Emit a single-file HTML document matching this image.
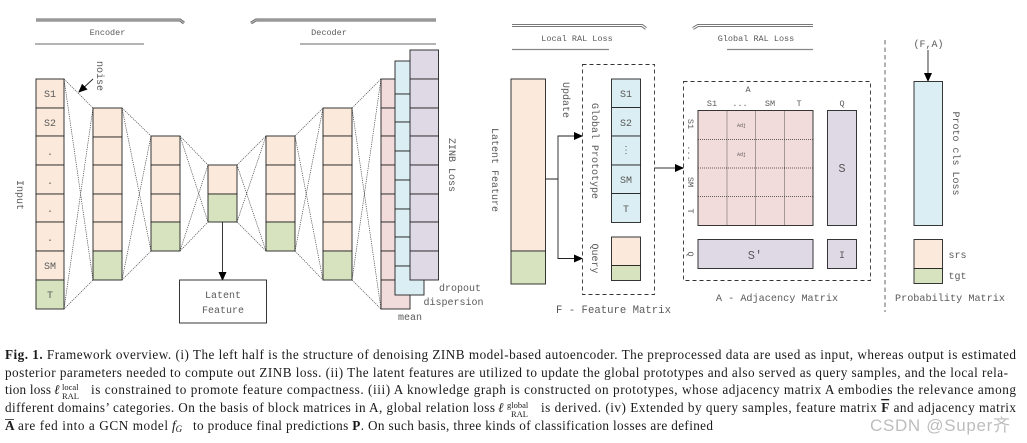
<!DOCTYPE html>
<html><head><meta charset="utf-8">
<style>
html,body{margin:0;padding:0;background:#fff;width:1027px;height:443px;overflow:hidden}
svg{display:block;filter:blur(.3px)}
.m{font-family:"Liberation Mono",monospace;font-size:10px;fill:#5a5a5a;text-anchor:middle}
.s{font-size:8.5px}
.t{font-size:5px}
.p{fill:#fbeadb}.g{fill:#d7e3bf}.k{fill:#f2dbdb}.b{fill:#dbeef3}.u{fill:#dfd9e6}
rect{stroke:#222;stroke-width:.9}
.x{fill:none;stroke:#444;stroke-width:.7;stroke-dasharray:1.2 1}
.d{fill:none;stroke:#333;stroke-width:.9;stroke-dasharray:4 3}
.l{stroke:#222;stroke-width:.9;fill:none}
.r{stroke:#888;stroke-width:1.2;fill:none}
.c{font-family:"Liberation Serif",serif;font-size:13.2px;fill:#1a1a1a}
</style></head><body>
<svg width="1027" height="443" viewBox="0 0 1027 443" xmlns="http://www.w3.org/2000/svg">
<defs><marker id="a" markerWidth="9" markerHeight="8" refX="8" refY="4" orient="auto" markerUnits="userSpaceOnUse"><path d="M0 0L9 4L0 8Z" fill="#000"/></marker></defs>

<!-- top bars -->
<path d="M36 20H180L184 23" fill="none" stroke="#666" stroke-width="3"/>
<path d="M436 20H256L251 23" fill="none" stroke="#666" stroke-width="3"/>
<path d="M36 20H180L184 23M436 20H256L251 23" fill="none" stroke="#aaa" stroke-width="1.6"/>
<path class="r" d="M35 44H144M300 44H436M512 49.5H609M727 49.5H813"/>
<path d="M512 25.500H642L646 28.500" fill="none" stroke="#666" stroke-width="3"/>
<path d="M813 25.500H698L693 28.500" fill="none" stroke="#666" stroke-width="3"/>
<path d="M512 25.500H642L646 28.500M813 25.500H698L693 28.500" fill="none" stroke="#fff" stroke-width="1.200"/>
<text class="m s" x="107.500" y="35">Encoder</text>
<text class="m s" x="329" y="35">Decoder</text>
<text class="m s" x="577" y="41">Local RAL Loss</text>
<text class="m s" x="756" y="41">Global RAL Loss</text>

<!-- connectors between columns -->
<path class="x" d="M64 79L93 108M64 79L93 280M64 309L93 280M64 309L93 108"/>
<path class="x" d="M122 108L151 136M122 108L151 251M122 280L151 251M122 280L151 136"/>
<path class="x" d="M180 136L208 165M180 136L208 222M180 251L208 222M180 251L208 165"/>
<path class="x" d="M237 165L266 136M237 165L266 251M237 222L266 251M237 222L266 136"/>
<path class="x" d="M295 136L323 108M295 136L323 280M295 251L323 280M295 251L323 108"/>
<path class="x" d="M352 108L381 79M352 108L381 309M352 280L381 309M352 280L381 79"/>

<!-- column 1 -->
<rect class="p" x="36" y="79" width="28" height="29"/><rect class="p" x="36" y="108" width="28" height="28"/><rect class="p" x="36" y="136" width="28" height="29"/><rect class="p" x="36" y="165" width="28" height="29"/><rect class="p" x="36" y="194" width="28" height="28"/><rect class="p" x="36" y="222" width="28" height="29"/><rect class="p" x="36" y="251" width="28" height="29"/><rect class="g" x="36" y="280" width="28" height="29"/>
<text class="m" x="50" y="97">S1</text><text class="m" x="50" y="126">S2</text><text class="m" x="50" y="155">.</text><text class="m" x="50" y="184">.</text><text class="m" x="50" y="212">.</text><text class="m" x="50" y="241">.</text><text class="m" x="50" y="269">SM</text><text class="m" x="50" y="298">T</text>

<!-- column 2 -->
<rect class="p" x="93" y="108" width="29" height="29"/><rect class="p" x="93" y="137" width="29" height="28"/><rect class="p" x="93" y="165" width="29" height="29"/><rect class="p" x="93" y="194" width="29" height="28"/><rect class="p" x="93" y="222" width="29" height="29"/><rect class="g" x="93" y="251" width="29" height="29"/>
<!-- column 3 -->
<rect class="p" x="151" y="136" width="29" height="29"/><rect class="p" x="151" y="165" width="29" height="29"/><rect class="p" x="151" y="194" width="29" height="28"/><rect class="g" x="151" y="222" width="29" height="29"/>
<!-- column 4 -->
<rect class="p" x="208" y="165" width="29" height="29"/><rect class="g" x="208" y="194" width="29" height="28"/>
<!-- column 5 -->
<rect class="p" x="266" y="136" width="29" height="29"/><rect class="p" x="266" y="165" width="29" height="29"/><rect class="p" x="266" y="194" width="29" height="28"/><rect class="g" x="266" y="222" width="29" height="29"/>
<!-- column 6 -->
<rect class="p" x="323" y="108" width="29" height="28"/><rect class="p" x="323" y="136" width="29" height="29"/><rect class="p" x="323" y="165" width="29" height="29"/><rect class="p" x="323" y="194" width="29" height="28"/><rect class="p" x="323" y="222" width="29" height="29"/><rect class="g" x="323" y="251" width="29" height="29"/>

<!-- pink -->
<rect class="k" x="381" y="79" width="29" height="29"/><rect class="k" x="381" y="108" width="29" height="28"/><rect class="k" x="381" y="136" width="29" height="29"/><rect class="k" x="381" y="165" width="29" height="29"/><rect class="k" x="381" y="194" width="29" height="28"/><rect class="k" x="381" y="222" width="29" height="29"/><rect class="k" x="381" y="251" width="29" height="29"/><rect class="k" x="381" y="280" width="29" height="29"/>
<!-- blue -->
<rect class="b" x="395" y="61" width="29" height="33"/><rect class="b" x="395" y="94" width="29" height="28"/><rect class="b" x="395" y="122" width="29" height="29"/><rect class="b" x="395" y="151" width="29" height="29"/><rect class="b" x="395" y="180" width="29" height="29"/><rect class="b" x="395" y="209" width="29" height="28"/><rect class="b" x="395" y="237" width="29" height="29"/><rect class="b" x="395" y="266" width="29" height="29"/>
<!-- purple -->
<rect class="u" x="410" y="50" width="28.500" height="29"/><rect class="u" x="410" y="79" width="28.500" height="29"/><rect class="u" x="410" y="108" width="28.500" height="28"/><rect class="u" x="410" y="136" width="28.500" height="29"/><rect class="u" x="410" y="165" width="28.500" height="29"/><rect class="u" x="410" y="194" width="28.500" height="28"/><rect class="u" x="410" y="222" width="28.500" height="29"/><rect class="u" x="410" y="251" width="28.500" height="29"/>

<!-- noise arrow -->
<path class="l" d="M93 79L79 92" marker-end="url(#a)"/>
<text class="m" transform="translate(97,76) rotate(90)">noise</text>
<text class="m" transform="translate(17,195) rotate(90)">Input</text>
<text class="m" transform="translate(449,165) rotate(90)">ZINB Loss</text>
<text class="m" transform="translate(492,170) rotate(90)">Latent Feature</text>
<text class="m" x="460" y="291">dropout</text>
<text class="m" x="453.500" y="305">dispersion</text>
<text class="m" x="410" y="320">mean</text>

<!-- latent feature -->
<path class="l" d="M222.500 222V280" marker-end="url(#a)"/>
<rect x="179.500" y="280" width="87" height="43" fill="#fff"/>
<text class="m" x="223" y="298">Latent</text>
<text class="m" x="223" y="313">Feature</text>

<!-- big feature column -->
<rect class="p" x="511" y="79" width="34.500" height="172"/><rect class="g" x="511" y="251" width="34.500" height="33"/>
<path class="l" d="M545 179H558V136H582" marker-end="url(#a)"/>
<path class="l" d="M558 179V258.500H582" marker-end="url(#a)"/>
<text class="m" transform="translate(563,100) rotate(90)">Update</text>
<rect x="582.500" y="64.500" width="72" height="230" class="d"/>
<text class="m" transform="translate(592,151) rotate(90)">Global Prototype</text>
<text class="m" transform="translate(592,258.500) rotate(90)">Query</text>
<rect class="b" x="611.500" y="79" width="29" height="28.500"/><rect class="b" x="611.500" y="107.500" width="29" height="28.500"/><rect class="b" x="611.500" y="136" width="29" height="29"/><rect class="b" x="611.500" y="165" width="29" height="28.500"/><rect class="b" x="611.500" y="193.500" width="29" height="29"/>
<text class="m" x="626" y="97">S1</text><text class="m" x="626" y="126">S2</text><text class="m" x="626" y="153">⋮</text><text class="m" x="626" y="183">SM</text><text class="m" x="626" y="212">T</text>
<rect class="p" x="611.500" y="237" width="29" height="28.500"/><rect class="g" x="611.500" y="265.500" width="29" height="15"/>
<text class="m" style="font-size:10.650px" x="613.500" y="313">F - Feature Matrix</text>

<!-- arrow to adjacency -->
<path d="M655 168H683" stroke="#777" stroke-width="1.500" fill="none" marker-end="url(#a)"/>
<rect x="683.500" y="81.500" width="187" height="199" class="d"/>
<text class="m s" x="748" y="92">A</text>
<text class="m s" x="712" y="106">S1</text><text class="m s" x="740" y="106">...</text><text class="m s" x="770" y="106">SM</text><text class="m s" x="799" y="106">T</text><text class="m s" x="842" y="106">Q</text>
<text class="m s" transform="translate(688,124) rotate(90)">S1</text>
<text class="m s" transform="translate(688,153) rotate(90)">...</text>
<text class="m s" transform="translate(688,182) rotate(90)">SM</text>
<text class="m s" transform="translate(688,211) rotate(90)">T</text>
<text class="m s" transform="translate(688,254) rotate(90)">Q</text>
<rect class="k" x="698" y="110.500" width="115" height="115"/>
<path d="M698 139.500H813M698 168H813M698 196.500H813M727 110.500V225.500M755.500 110.500V225.500M784.500 110.500V225.500" fill="none" stroke="#333" stroke-width=".8" stroke-dasharray="1 1"/>
<text class="m t" x="741.500" y="127">Adj</text><text class="m t" x="741.500" y="156">Adj</text>
<rect class="u" x="827.500" y="110.500" width="29" height="115"/>
<text class="m" style="font-size:12px" x="842" y="172">S</text>
<rect class="u" x="698" y="239.500" width="115" height="29"/>
<text class="m" style="font-size:12px" x="755" y="259">S'</text>
<rect class="u" x="827.500" y="239.500" width="29" height="29"/>
<text class="m" x="842" y="258">I</text>
<text class="m" style="font-size:10.200px" x="777" y="301">A - Adjacency Matrix</text>

<!-- right panel -->
<path d="M885 40V312" stroke="#666" stroke-width="1" stroke-dasharray="4.500 3" fill="none"/>
<text class="m" x="928.500" y="47">(F,A)</text>
<path class="l" d="M928 50V81" marker-end="url(#a)"/>
<rect class="b" x="914" y="81.500" width="28.500" height="144"/>
<text class="m" transform="translate(953,153.500) rotate(90)">Proto cls Loss</text>
<rect class="p" x="914" y="239.500" width="28.500" height="29"/><rect class="g" x="914" y="268.500" width="28.500" height="15"/>
<text class="m" x="957.500" y="258">srs</text><text class="m" x="957.500" y="279">tgt</text>
<text class="m" x="950" y="301" style="font-size:10.200px">Probability Matrix</text>

<!-- caption -->
<text class="c" x="5" y="359" textLength="1011" lengthAdjust="spacing"><tspan font-weight="bold">Fig. 1.</tspan> Framework overview. (i) The left half is the structure of denoising ZINB model-based autoencoder. The preprocessed data are used as input, whereas output is estimated</text>
<text class="c" x="5" y="377" textLength="1003" lengthAdjust="spacing">posterior parameters needed to compute out ZINB loss. (ii) The latent features are utilized to update the global prototypes and also served as query samples, and the local rela-</text>
<text class="c" x="5" y="394" textLength="46" lengthAdjust="spacing">tion loss</text>
<text class="c" x="54" y="394" font-style="italic">ℓ</text>
<text class="c" x="62" y="390" style="font-size:8.500px">local</text>
<text class="c" x="62" y="399" style="font-size:8.500px">RAL</text>
<text class="c" x="91" y="394" textLength="925" lengthAdjust="spacing">is constrained to promote feature compactness. (iii) A knowledge graph is constructed on prototypes, whose adjacency matrix A embodies the relevance among</text>
<text class="c" x="5" y="412" textLength="490" lengthAdjust="spacing">different domains’ categories. On the basis of block matrices in A, global relation loss</text>
<text class="c" x="498" y="412" font-style="italic">ℓ</text>
<text class="c" x="507" y="408" style="font-size:8.500px">global</text>
<text class="c" x="511" y="417" style="font-size:8.500px">RAL</text>
<text class="c" x="541" y="412" textLength="475" lengthAdjust="spacing">is derived. (iv) Extended by query samples, feature matrix <tspan font-weight="bold" text-decoration="overline">F</tspan> and adjacency matrix</text>
<path d="M5 419.500H14" stroke="#222" stroke-width=".8"/>
<text class="c" x="5" y="430" font-weight="bold">A</text>
<text class="c" x="18" y="430" textLength="150" lengthAdjust="spacing">are fed into a GCN model</text>
<text class="c" x="172" y="430" font-style="italic">f<tspan dy="2" style="font-size:9px">G</tspan></text>
<text class="c" x="193" y="430" textLength="520" lengthAdjust="spacing">to produce final predictions <tspan font-weight="bold">P</tspan>. On such basis, three kinds of classification losses are defined</text>

<!-- watermark -->
<text x="870" y="431" textLength="140" lengthAdjust="spacing" style="font-family:'Liberation Sans','Noto Sans CJK SC',sans-serif;font-size:17px;fill:#bdbdbd">CSDN @Super齐</text>
</svg>
</body></html>
